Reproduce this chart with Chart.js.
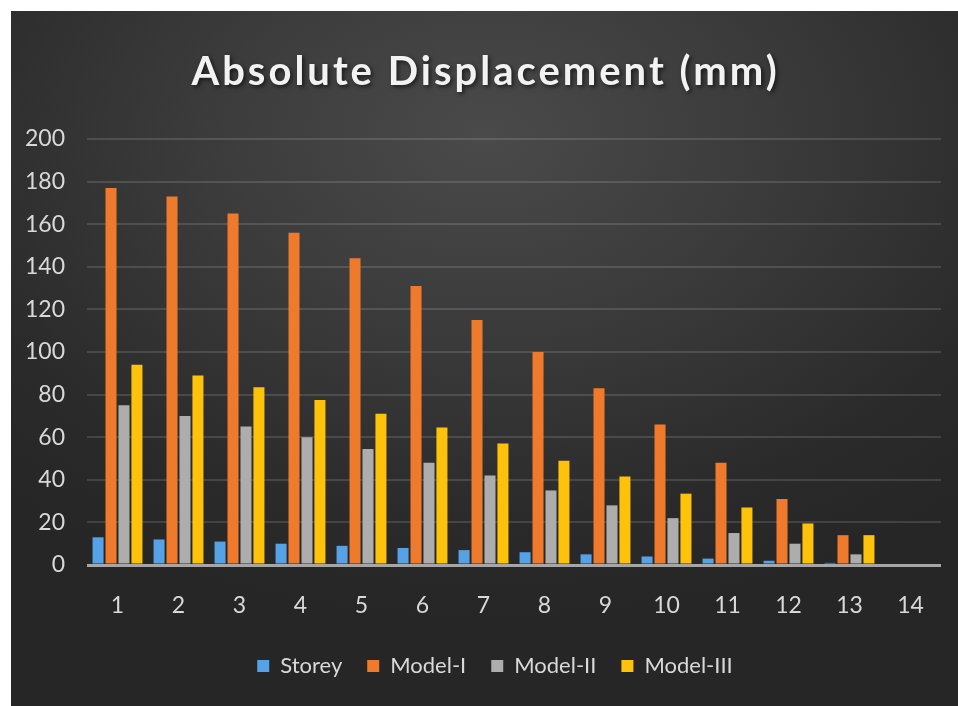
<!DOCTYPE html>
<html>
<head>
<meta charset="utf-8">
<script src="https://cdn.jsdelivr.net/npm/chart.js@4"></script>
<style>
  html, body { margin: 0; padding: 0; background: #fff; }
  #wrap {
    position: absolute; left: 11px; top: 11px; width: 947px; height: 695px;
    background: radial-gradient(ellipse 75% 70% at 50% 18%, #4a4a4a 0%, #3b3b3b 40%, #2a2a2a 80%, #262626 100%);
  }
</style>
</head>
<body>
<div id="wrap"><canvas id="dispChart" width="947" height="695"></canvas></div>
<script>
const storeys = ['1', '2', '3', '4', '5', '6', '7', '8', '9', '10', '11', '12', '13', '14'];
const storey = [13, 12, 11, 10, 9, 8, 7, 6, 5, 4, 3, 2, 1, 0];
const model1 = [177, 173, 165, 156, 144, 131, 115, 100, 83, 66, 48, 31, 14, 0];
const model2 = [75, 70, 65, 60, 54.5, 48, 42, 35, 28, 22, 15, 10, 5, 0];
const model3 = [94, 89, 83.5, 77.5, 71, 64.5, 57, 49, 41.5, 33.5, 27, 19.5, 14, 0];
const yTicks = [0, 20, 40, 60, 80, 100, 120, 140, 160, 180, 200];

const titleText = 'Absolute Displacement (mm)';

// title drawn by hand so it can have letter spacing and a shadow
const titlePlugin = {
  id: 'shadowTitle',
  afterLayout(chart) {
    // legend in the original sits a bit right of the canvas centre
    if (chart.legend) {
      chart.legend.left += 19;
      chart.legend.right += 19;
    }
  },
  afterDraw(chart) {
    const ctx = chart.ctx;
    ctx.save();
    ctx.font = 'bold 40px Lato';
    ctx.letterSpacing = '3px';
    ctx.fillStyle = '#f2f2f2';
    ctx.textAlign = 'center';
    ctx.textBaseline = 'middle';
    ctx.shadowColor = 'rgba(0,0,0,0.6)';
    ctx.shadowOffsetX = 2;
    ctx.shadowOffsetY = 2;
    ctx.shadowBlur = 4;
    ctx.fillText(titleText, chart.width / 2 + 1, 61);
    ctx.restore();
  }
};

document.addEventListener('DOMContentLoaded', () => {
  const ctx = document.getElementById('dispChart').getContext('2d');
  new Chart(ctx, {
    type: 'bar',
    data: {
      labels: storeys,
      datasets: [
        { label: 'Storey', data: storey, backgroundColor: '#55a2e6' },
        { label: 'Model-I', data: model1, backgroundColor: '#f07a2c' },
        { label: 'Model-II', data: model2, backgroundColor: '#adadad' },
        { label: 'Model-III', data: model3, backgroundColor: '#ffc20a' }
      ]
    },
    options: {
      responsive: false,
      animation: false,
      layout: { padding: { top: 128, right: 17, bottom: 19, left: 0 } },
      datasets: { bar: { categoryPercentage: 0.85, barPercentage: 0.85 } },
      scales: {
        x: {
          grid: { display: false, drawTicks: false },
          border: { display: false },
          ticks: { color: '#d9d9d9', font: { family: 'Lato', size: 23 }, padding: 27 },
          afterFit(scale) { scale.height = 65; }
        },
        y: {
          min: 0,
          max: 200,
          afterBuildTicks(scale) { scale.ticks = yTicks.map(v => ({ value: v })); },
          afterFit(scale) { scale.width = 76; },
          border: { display: false },
          grid: {
            drawTicks: false,
            color: c => c.tick && c.tick.value === 0 ? '#a6a6a6' : 'rgba(255,255,255,0.13)',
            lineWidth: c => c.tick && c.tick.value === 0 ? 3 : 2
          },
          ticks: { color: '#d9d9d9', font: { family: 'Lato', size: 23 }, padding: 22 }
        }
      },
      plugins: {
        legend: {
          position: 'bottom',
          labels: {
            color: '#d9d9d9',
            font: { family: 'Lato', size: 22 },
            boxWidth: 12,
            boxHeight: 12,
            padding: 25
          }
        },
        tooltip: { enabled: false }
      }
    },
    plugins: [titlePlugin]
  });
});
</script>
</body>
</html>
